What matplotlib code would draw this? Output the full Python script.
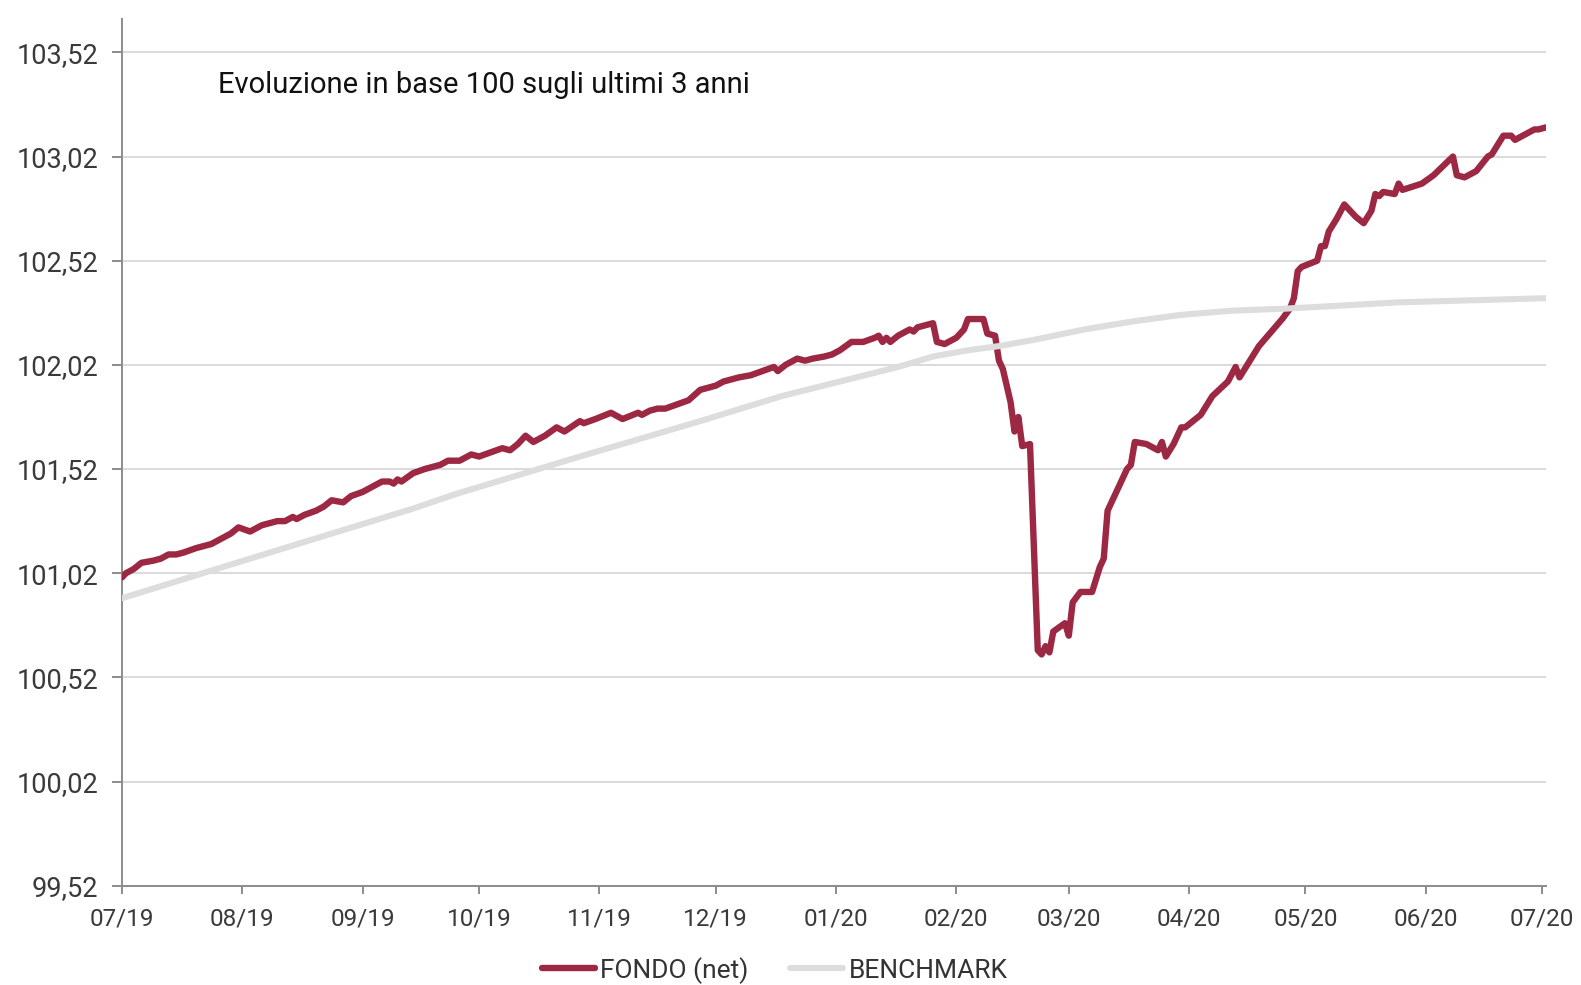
import numpy as np
import pandas as pd
import matplotlib
matplotlib.use("Agg")
import matplotlib.pyplot as plt
from matplotlib.ticker import FixedLocator, FuncFormatter
import matplotlib.dates as mdates

# ===== dati (giorni dal 01/07/2019) =====
start = pd.Timestamp("2019-07-01")

fondo_days = [0, 1, 3, 5, 8, 10, 12, 14, 16, 19, 21, 23, 25, 27, 28, 30, 33, 36, 38, 40,
              42, 44, 45, 47, 50, 52, 54, 57, 59, 62, 64, 65, 67, 69, 70, 71, 72, 75, 78, 82,
              84, 87, 90, 92, 95, 98, 100, 102, 104, 106, 109, 112, 114, 118, 119, 122, 126, 129, 133, 134,
              136, 138, 140, 143, 146, 149, 153, 155, 159, 162, 165, 168, 169, 171, 174, 176, 178, 181, 183, 185,
              188, 191, 194, 195, 196, 197, 198, 200, 203, 204, 205, 209, 210, 212, 215, 217, 218, 222, 223, 225,
              226, 227, 229, 230, 231, 232, 234, 236, 237, 238, 239, 240, 243, 244, 245, 247, 250, 252, 253, 254,
              259, 260, 261, 264, 267, 268, 269, 271, 273, 274, 278, 281, 285, 287, 288, 290, 293, 299, 301, 302,
              303, 304, 308, 309, 310, 311, 313, 315, 318, 320, 322, 323, 324, 325, 328, 329, 330, 335, 338, 343,
              344, 346, 349, 352, 353, 356, 358, 359, 360, 362, 364, 365, 367]
fondo_values = [101.00, 101.02, 101.04, 101.07, 101.08, 101.09, 101.11, 101.11, 101.12, 101.14,
                101.15, 101.16, 101.18, 101.20, 101.21, 101.24, 101.22, 101.25, 101.26, 101.27,
                101.27, 101.29, 101.28, 101.30, 101.32, 101.34, 101.37, 101.36, 101.39, 101.41,
                101.43, 101.44, 101.46, 101.46, 101.45, 101.47, 101.46, 101.50, 101.52, 101.54,
                101.56, 101.56, 101.59, 101.58, 101.60, 101.62, 101.61, 101.64, 101.68, 101.65,
                101.68, 101.72, 101.70, 101.75, 101.74, 101.76, 101.79, 101.76, 101.79, 101.78,
                101.80, 101.81, 101.81, 101.83, 101.85, 101.90, 101.92, 101.94, 101.96, 101.97,
                101.99, 102.01, 101.99, 102.02, 102.05, 102.04, 102.05, 102.06, 102.07, 102.09,
                102.13, 102.13, 102.15, 102.16, 102.13, 102.15, 102.13, 102.16, 102.19, 102.18,
                102.20, 102.22, 102.13, 102.12, 102.15, 102.19, 102.24, 102.24, 102.17, 102.16,
                102.04, 102.00, 101.84, 101.70, 101.77, 101.63, 101.64, 100.65, 100.63, 100.67,
                100.64, 100.74, 100.78, 100.72, 100.88, 100.93, 100.93, 101.05, 101.09, 101.32,
                101.52, 101.54, 101.65, 101.64, 101.61, 101.65, 101.58, 101.64, 101.72, 101.72,
                101.78, 101.87, 101.94, 102.01, 101.96, 102.02, 102.11, 102.24, 102.29, 102.34,
                102.47, 102.49, 102.52, 102.59, 102.59, 102.66, 102.72, 102.79, 102.73, 102.70,
                102.76, 102.84, 102.83, 102.85, 102.84, 102.89, 102.86, 102.89, 102.93, 103.02,
                102.93, 102.92, 102.95, 103.02, 103.03, 103.12, 103.12, 103.10, 103.11, 103.13,
                103.15, 103.15, 103.16]

bench_days = [0, 33, 75, 86, 118, 149, 170, 200, 209, 218, 226, 235, 248, 261, 273, 286, 300, 329, 367]
bench_values = [100.90, 101.09, 101.33, 101.40, 101.58, 101.75, 101.87, 102.01, 102.06, 102.09,
                102.11, 102.14, 102.19, 102.23, 102.26, 102.28, 102.29, 102.32, 102.34]

y_ticks = [99.52, 100.02, 100.52, 101.02, 101.52, 102.02, 102.52, 103.02, 103.52]
month_ticks = pd.date_range("2019-07-01", "2020-07-01", freq="MS")

titolo = "Evoluzione in base 100 sugli ultimi 3 anni"
label_fondo = "FONDO (net)"
label_bench = "BENCHMARK"

col_fondo = "#9C2844"
col_bench = "#DDDDDD"

fondo_x = start + pd.to_timedelta(fondo_days, unit="D")
bench_x = start + pd.to_timedelta(bench_days, unit="D")

plt.rcParams["font.family"] = ["Roboto", "DejaVu Sans"]

fig = plt.figure(figsize=(15.81, 9.85), dpi=100)
ax = fig.add_axes([0.0772, 0.1008, 0.9007, 0.8799])

l1, = ax.plot(fondo_x, fondo_values, color=col_fondo, lw=4.6, solid_capstyle="round",
              solid_joinstyle="round", zorder=3, label=label_fondo)
l2, = ax.plot(bench_x, bench_values, color=col_bench, lw=4.4, solid_capstyle="round",
              zorder=4, label=label_bench)

ax.set_xlim(pd.Timestamp("2019-07-01"), pd.Timestamp("2020-07-02"))
ax.set_ylim(99.52, 103.68)

ax.yaxis.set_major_locator(FixedLocator(y_ticks))
ax.yaxis.set_major_formatter(FuncFormatter(lambda v, p: f"{v:.2f}".replace(".", ",")))
ax.set_xticks(month_ticks)
ax.xaxis.set_major_formatter(mdates.DateFormatter("%m/%y"))

ax.grid(axis="y", color="#DADADA", lw=1.4)
ax.set_axisbelow(True)
for s in ["top", "right"]:
    ax.spines[s].set_visible(False)
for s in ["left", "bottom"]:
    ax.spines[s].set_color("#8C8C8C")
    ax.spines[s].set_linewidth(1.4)

ax.tick_params(axis="y", length=7, width=1.4, color="#8C8C8C", pad=10,
               labelsize=19.5, labelcolor="#3A3A3A")
ax.tick_params(axis="x", length=6, width=1.4, color="#8C8C8C", pad=10,
               labelsize=17.5, labelcolor="#3A3A3A")

ax.text(0.0676, 0.924, titolo, transform=ax.transAxes, fontsize=21, color="#111111",
        ha="left", va="center")

fig.legend(handles=[l1, l2], loc="center", bbox_to_anchor=(0.49, 0.015), ncol=2,
           frameon=False, fontsize=19, handlelength=2.0, handletextpad=0.2,
           columnspacing=1.6, labelcolor="#333333")

fig.savefig("out.png", dpi=100)
